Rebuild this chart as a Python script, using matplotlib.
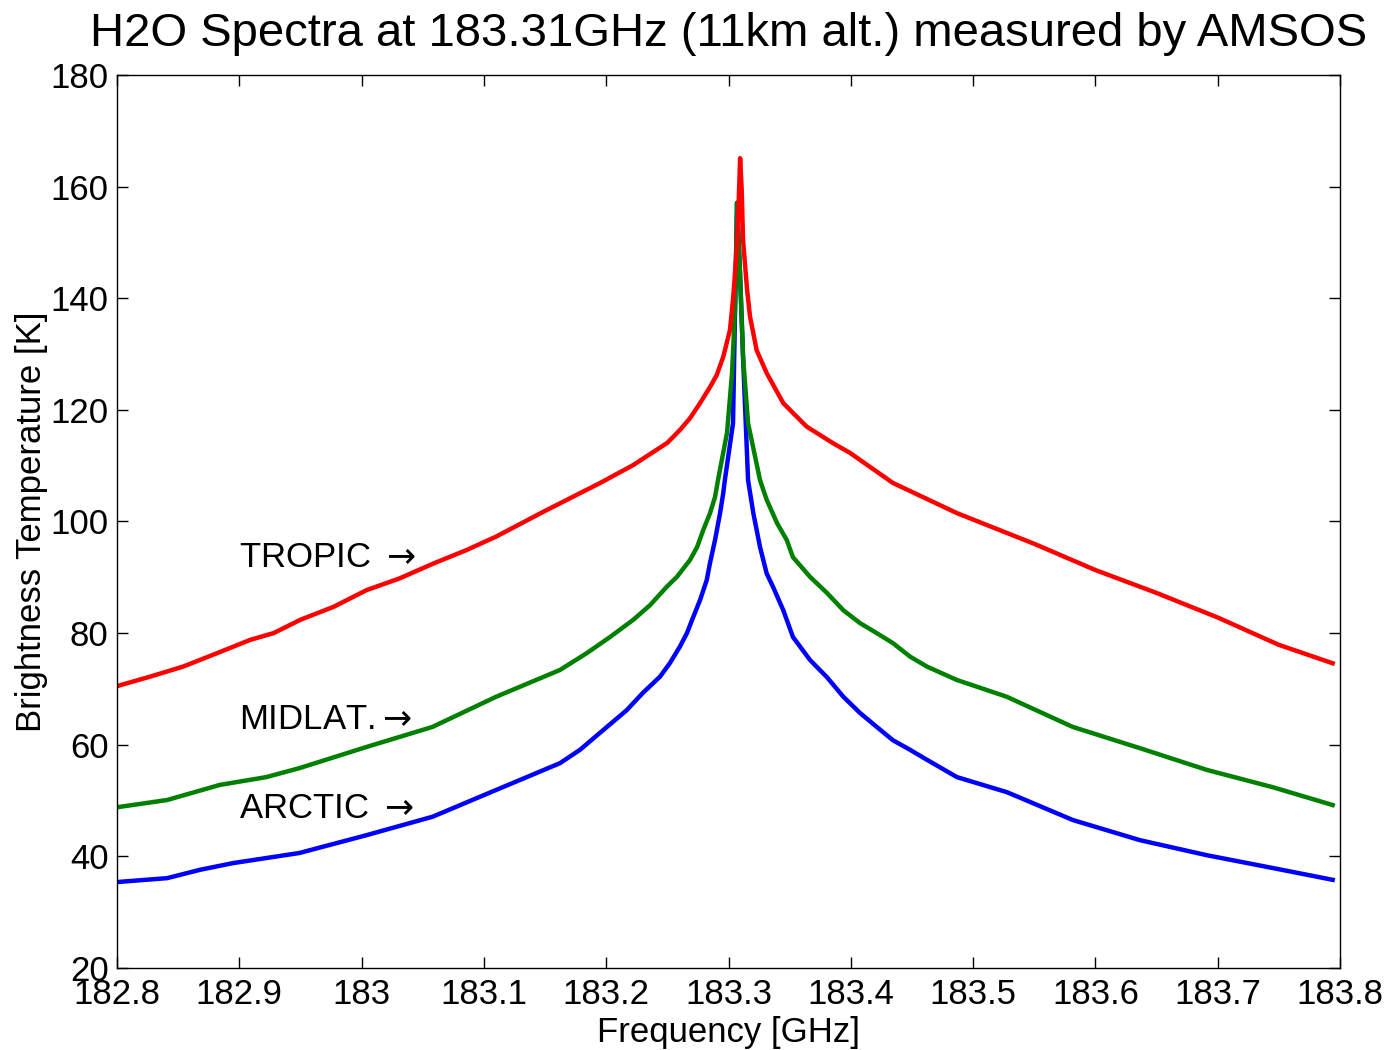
# -*- coding: utf-8 -*-
# Espectros H2O a 183.31 GHz (AMSOS) - tropico, latitudes medias, artico
import numpy as np
import matplotlib
matplotlib.use('Agg')
import matplotlib.pyplot as plt

plt.rcParams['font.family'] = ['Liberation Sans', 'DejaVu Sans']

#==============================================================================
#- Datos
#==============================================================================
f_tropic = [182.800, 182.827, 182.854, 182.884, 182.909, 182.928, 182.950,
            182.977, 183.004, 183.031, 183.059, 183.086, 183.110, 183.150,
            183.195, 183.222, 183.250, 183.2603, 183.2685, 183.2767,
            183.2849, 183.2903, 183.2957, 183.3012, 183.3039, 183.3067,
            183.3080, 183.3095, 183.3108, 183.3119, 183.3152, 183.3176,
            183.3230, 183.3312, 183.3448, 183.3639, 183.3857, 183.3993,
            183.4345, 183.4868, 183.550, 183.600, 183.650, 183.700,
            183.750, 183.794]
T_tropic = [70.5, 72.2, 74.0, 76.6, 78.8, 80.0, 82.4,
            84.7, 87.7, 89.8, 92.5, 94.9, 97.3, 101.9,
            106.9, 110.1, 114.1, 116.4, 118.5, 121.2,
            124.1, 126.2, 129.5, 134.3, 140.3, 148.6,
            155.0, 165.1, 159.4, 150.4, 141.5, 136.7,
            130.7, 126.6, 121.2, 117.0, 114.0, 112.3,
            106.9, 101.5, 96.0, 91.3, 87.2, 82.8,
            77.9, 74.6]

f_midlat = [182.800, 182.841, 182.884, 182.922, 182.949, 183.004, 183.058,
            183.110, 183.1622, 183.184, 183.2031, 183.2222, 183.2358,
            183.2495, 183.2579, 183.2685, 183.2743, 183.2794, 183.2849,
            183.289, 183.2914, 183.2988, 183.3029, 183.3054, 183.3070,
            183.3094, 183.3119, 183.3160, 183.3258, 183.3312, 183.3397,
            183.3476, 183.3527, 183.3666, 183.3805, 183.3939, 183.4075,
            183.4212, 183.4345, 183.4484, 183.4623, 183.4868, 183.5275,
            183.5814, 183.6362, 183.6910, 183.7449, 183.794]
T_midlat = [48.8, 50.1, 52.8, 54.2, 55.8, 59.6, 63.2,
            68.6, 73.4, 76.4, 79.3, 82.4, 85.0,
            88.3, 90.1, 93.1, 95.4, 98.5, 101.5,
            104.4, 107.4, 115.9, 126.6, 138.4, 157.1,
            144.5, 129.5, 117.6, 107.4, 103.9, 99.7,
            96.7, 93.6, 90.1, 87.2, 84.1, 81.8,
            80.0, 78.2, 75.8, 74.0, 71.6, 68.6,
            63.2, 59.4, 55.5, 52.4, 49.2]

#- el pico del artico queda oculto bajo las otras curvas
f_arctic = [182.800, 182.841, 182.868, 182.895, 182.949, 183.004, 183.058,
            183.110, 183.1622, 183.1786, 183.1974, 183.2168, 183.230,
            183.2440, 183.252, 183.2603, 183.266, 183.2712, 183.2767,
            183.2822, 183.2849, 183.2890, 183.2931, 183.2957, 183.297,
            183.3037, 183.3054, 183.3070, 183.3094, 183.3119, 183.316,
            183.3203, 183.3258, 183.3312, 183.3364, 183.3448, 183.3527,
            183.3666, 183.3805, 183.3939, 183.4075, 183.4212, 183.4345,
            183.4484, 183.4623, 183.4868, 183.5277, 183.5817, 183.6365,
            183.6913, 183.7453, 183.794]
T_arctic = [35.4, 36.1, 37.6, 38.8, 40.6, 43.8, 47.1,
            51.9, 56.7, 59.1, 62.6, 66.2, 69.3,
            72.2, 74.6, 77.6, 80.0, 82.9, 85.9,
            89.5, 92.6, 96.7, 101.5, 105.1, 107.4,
            117.6, 138.4, 157.1, 144.5, 129.5, 107.4,
            101.5, 95.4, 90.7, 88.3, 84.1, 79.3,
            75.2, 72.1, 68.6, 65.7, 63.2, 60.8,
            59.1, 57.3, 54.2, 51.5, 46.5, 42.9,
            40.2, 37.9, 35.8]

etiquetas = ['TROPIC $\\rightarrow$', 'MIDLAT.$\\rightarrow$', 'ARCTIC $\\rightarrow$']
y_etiquetas = [93.6, 64.6, 48.6]
x_etiquetas = 182.9

xticks = [182.8, 182.9, 183, 183.1, 183.2, 183.3, 183.4, 183.5, 183.6, 183.7, 183.8]
xticklabels = ['182.8', '182.9', '183', '183.1', '183.2', '183.3', '183.4',
               '183.5', '183.6', '183.7', '183.8']
yticks = [20, 40, 60, 80, 100, 120, 140, 160, 180]

#==============================================================================
#- Figura
#==============================================================================
fig = plt.figure(figsize=(13.92, 10.5), dpi=100)
ax = fig.add_axes([117/1392, 1 - 968/1050, (1340 - 117)/1392, (968 - 75)/1050])

#- orden de dibujo: artico, latitudes medias, tropico (rojo encima)
lw = 3.2
ax.plot(f_arctic, T_arctic, color=(0, 0, 1), lw=lw, solid_joinstyle='round')
ax.plot(f_midlat, T_midlat, color=(0, 0.5, 0), lw=lw, solid_joinstyle='round')
ax.plot(f_tropic, T_tropic, color=(1, 0, 0), lw=lw, solid_joinstyle='round')

for txt, yy in zip(etiquetas, y_etiquetas):
    ax.text(x_etiquetas, yy, txt, fontsize=25, va='center', ha='left')

ax.set_xlim(182.8, 183.8)
ax.set_ylim(20, 180)
ax.set_xticks(xticks)
ax.set_xticklabels(xticklabels)
ax.set_yticks(yticks)
ax.tick_params(direction='in', length=8, width=1, top=True, right=True,
               labelsize=25)
ax.tick_params(axis='x', pad=7)
ax.tick_params(axis='y', pad=6)
for s in ax.spines.values():
    s.set_linewidth(1)

ax.set_title('H2O Spectra at 183.31GHz (11km alt.) measured by AMSOS',
             fontsize=34, pad=21)
ax.set_xlabel('Frequency [GHz]', fontsize=25, labelpad=4)
ax.set_ylabel('Brightness Temperature [K]', fontsize=25, labelpad=2)

plt.savefig('out.png', dpi=100)
